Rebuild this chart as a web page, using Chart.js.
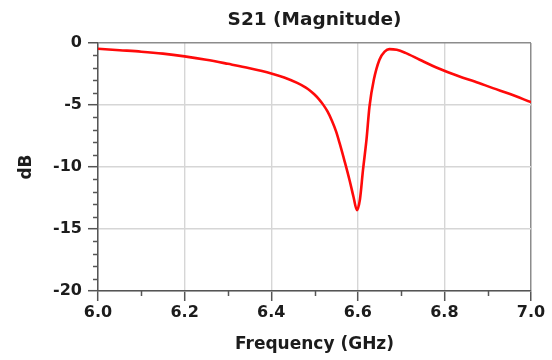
<!DOCTYPE html>
<html>
<head>
<meta charset="utf-8">
<script src="https://cdn.jsdelivr.net/npm/chart.js@4"></script>
<style>
html,body{margin:0;padding:0;background:#fff;}
#wrap{width:552px;height:360px;}
</style>
</head>
<body>
<div id="wrap"><canvas id="c" width="552" height="360"></canvas></div>
<script>
const chartTitle = 'S21 (Magnitude)';
const xTitle = 'Frequency (GHz)';
const yTitle = 'dB';
const freqGHz = [6.00,6.05,6.10,6.15,6.20,6.25,6.30,6.35,6.40,6.43,6.46,6.48,6.49,6.50,6.51,6.52,6.53,6.54,6.55,6.558,6.57,6.581,6.59,6.598,6.605,6.612,6.620,6.627,6.637,6.650,6.662,6.673,6.69,6.71,6.743,6.78,6.835,6.87,6.912,6.95,7.00];
const s21dB   = [-0.46,-0.58,-0.70,-0.86,-1.08,-1.35,-1.68,-2.03,-2.45,-2.78,-3.22,-3.60,-3.85,-4.15,-4.52,-4.97,-5.52,-6.25,-7.15,-8.08,-9.60,-11.07,-12.40,-13.48,-12.60,-10.24,-7.82,-5.12,-2.97,-1.35,-0.70,-0.49,-0.55,-0.80,-1.35,-1.95,-2.70,-3.10,-3.64,-4.10,-4.77];
const xMin = 6.0, xMax = 7.0, xStep = 0.2, xMinorStep = 0.1;
const yMin = -20, yMax = 0, yStep = 5, yMinorStep = 1;

const FONT = '"DejaVu Sans", "Liberation Sans", Arial, sans-serif';
const TXT = '#1c1c1c';

const minorTicks = {
  id: 'minorTicks',
  afterDatasetsDraw(chart) {
    const {ctx, chartArea, scales} = chart;
    ctx.save();
    ctx.strokeStyle = '#555';
    ctx.lineWidth = 1.5;
    const ys = scales.y;
    for (let v = yMin; v <= yMax; v += yMinorStep) {
      if (v % yStep === 0) continue;
      const p = Math.round(ys.getPixelForValue(v)) + 0.5;
      ctx.beginPath(); ctx.moveTo(chartArea.left - 5, p); ctx.lineTo(chartArea.left, p); ctx.stroke();
    }
    const xs = scales.x;
    for (let i = 0; i <= Math.round((xMax - xMin) / xMinorStep); i++) {
      if (i % 2 === 0) continue;
      const v = xMin + i * xMinorStep;
      const p = Math.round(xs.getPixelForValue(v)) + 0.5;
      ctx.beginPath(); ctx.moveTo(p, chartArea.bottom); ctx.lineTo(p, chartArea.bottom + 5); ctx.stroke();
    }
    ctx.restore();
  }
};

const centeredTitle = {
  id: 'centeredTitle',
  afterDraw(chart) {
    const {ctx, chartArea} = chart;
    ctx.save();
    ctx.font = 'bold 18.5px ' + FONT;
    ctx.fillStyle = TXT;
    ctx.textAlign = 'center';
    ctx.textBaseline = 'middle';
    ctx.fillText(chartTitle, (chartArea.left + chartArea.right) / 2, 20);
    ctx.restore();
  }
};

const points = freqGHz.map((f, i) => ({x: f, y: s21dB[i]}));

new Chart(document.getElementById('c'), {
  type: 'line',
  data: {
    datasets: [{
      data: points,
      borderColor: '#ff0a0a',
      borderWidth: 2.6,
      pointRadius: 0,
      cubicInterpolationMode: 'monotone',
      fill: false
    }]
  },
  options: {
    responsive: false,
    animation: false,
    devicePixelRatio: 1,
    layout: {padding: {top: 43, right: 21, left: 0, bottom: 0}},
    plugins: {legend: {display: false}, tooltip: {enabled: false}, title: {display: false}},
    scales: {
      x: {
        type: 'linear',
        min: xMin, max: xMax,
        afterFit(s) { s.height = 69; },
        ticks: {
          stepSize: xStep,
          padding: 2,
          color: TXT,
          font: {family: FONT, size: 16, weight: 'bold'},
          maxRotation: 0,
          callback: v => Number(v).toFixed(1)
        },
        grid: {
          color: c => (c.tick && Math.abs(c.tick.value - xMax) < 1e-6) ? '#8c8c8c' : '#d6d6d6',
          lineWidth: c => (c.tick && Math.abs(c.tick.value - xMax) < 1e-6) ? 1.5 : 1.4,
          tickColor: '#555',
          tickLength: 10,
          tickWidth: 1.5
        },
        border: {display: true, color: '#555', width: 1.5},
        title: {display: true, text: xTitle, color: TXT, font: {family: FONT, size: 17, weight: 'bold'}, padding: {top: 0, bottom: 5}}
      },
      y: {
        min: yMin, max: yMax,
        afterFit(s) { s.width = 98; },
        ticks: {
          stepSize: yStep,
          padding: 6,
          color: TXT,
          font: {family: FONT, size: 16, weight: 'bold'}
        },
        grid: {
          color: c => (c.tick && c.tick.value === yMax) ? '#8c8c8c' : '#d6d6d6',
          lineWidth: c => (c.tick && c.tick.value === yMax) ? 1.5 : 1.4,
          tickColor: '#555',
          tickLength: 10,
          tickWidth: 1.5
        },
        border: {display: true, color: '#555', width: 1.5},
        title: {display: true, text: yTitle, color: TXT, font: {family: FONT, size: 17, weight: 'bold'}, padding: {top: 16, bottom: 0}}
      }
    }
  },
  plugins: [minorTicks, centeredTitle]
});
</script>
</body>
</html>
